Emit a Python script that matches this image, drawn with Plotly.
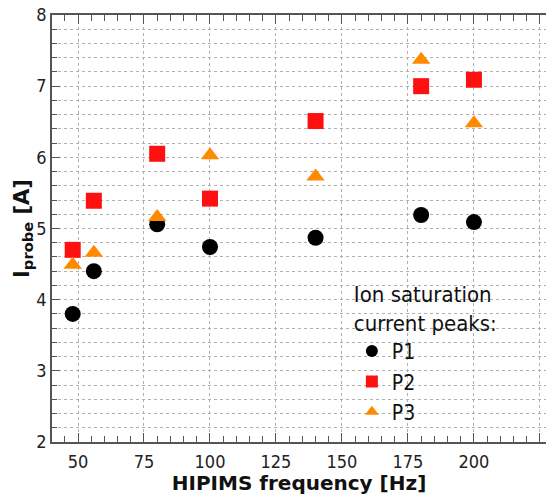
import plotly.graph_objects as go

freq = [48, 56, 80, 100, 140, 180, 200]
p1 = [3.80, 4.40, 5.06, 4.74, 4.87, 5.19, 5.09]
p2 = [4.70, 5.39, 6.05, 5.42, 6.51, 7.00, 7.09]
p3 = [4.49, 4.66, 5.16, 6.03, 5.73, 7.37, 6.48]

series = [
    ("P1", p1, "circle", "#000000"),
    ("P2", p2, "square", "#ff1010"),
    ("P3", p3, "triangle-up", "#ff8a00"),
]

FONT = "DejaVu Sans Condensed, DejaVu Sans, sans-serif"

fig = go.Figure()
for name, ys, sym, col in series:
    fig.add_trace(go.Scatter(
        x=freq, y=ys, mode="markers", name=name,
        marker=dict(symbol=sym, size=16, color=col, line=dict(width=0)),
    ))

axis_common = dict(
    showline=True, linecolor="#555555", linewidth=1.5,
    ticks="inside", tickcolor="#555555",
    tickfont=dict(family=FONT, size=18, color="#222222"),
    showgrid=True, gridcolor="#b0b0b0", griddash="dot", gridwidth=1,
    zeroline=False,
)

fig.update_xaxes(
    **axis_common,
    range=[40.15, 227.3], dtick=25, tick0=0, ticklen=9, tickwidth=1.2,
    mirror="ticks", ticklabelstandoff=3,
    minor=dict(dtick=5, ticks="inside", ticklen=6, tickcolor="#555555", showgrid=False),
    title=dict(text="<b>HIPIMS frequency [Hz]</b>",
               font=dict(family="DejaVu Sans, sans-serif", size=20, color="#111111"),
               standoff=4),
)
fig.update_yaxes(
    **axis_common,
    range=[2, 8], dtick=1, ticklen=8, tickwidth=1.2,
    minor=dict(dtick=0.2, ticks="inside", ticklen=5, tickcolor="#555555",
               showgrid=True, gridcolor="#b0b0b0", griddash="dot", gridwidth=1),
    title=dict(text="<b>I<sub>probe</sub> [A]</b>",
               font=dict(family="DejaVu Sans, sans-serif", size=21, color="#111111"),
               standoff=0),
)

fig.update_layout(
    width=546, height=495,
    margin=dict(l=52, r=0, t=15, b=53),
    plot_bgcolor="white", paper_bgcolor="white",
    legend=dict(
        x=0.607, y=0.394, xanchor="left", yanchor="top",
        bgcolor="rgba(255,255,255,0)",
        font=dict(family=FONT, size=21, color="#111111"),
        title=dict(text="Ion saturation<br>current peaks:",
                   font=dict(family=FONT, size=22, color="#111111")),
        itemsizing="constant",
    ),
)

fig.write_html("out.html")
